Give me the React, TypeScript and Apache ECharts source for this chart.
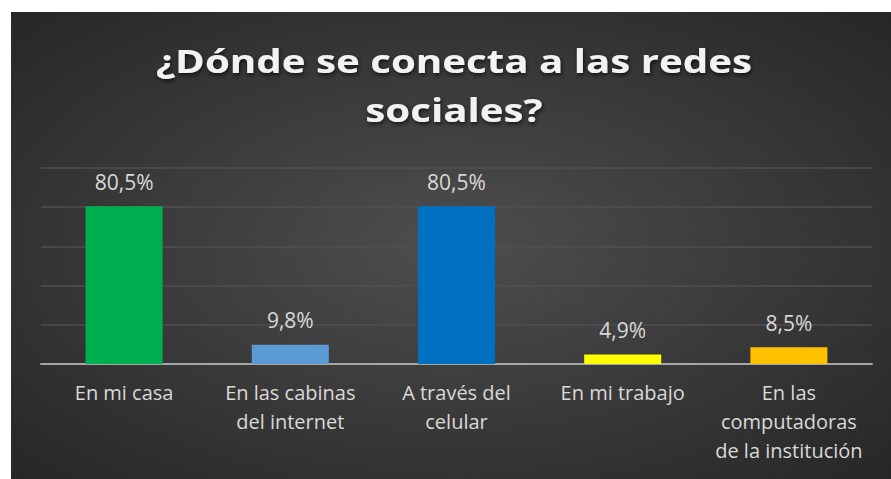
import React, { useEffect, useRef } from "react";
import * as echarts from "echarts";

const categories = [
  "En mi casa",
  "En las cabinas\ndel internet",
  "A través del\ncelular",
  "En mi trabajo",
  "En las\ncomputadoras\nde la institución",
];
const values = [80.5, 9.8, 80.5, 4.9, 8.5];
const barColors = ["#00b050", "#5b9bd5", "#0070c0", "#ffff00", "#ffc000"];
const titleText = "¿Dónde se conecta a las redes\nsociales?";

export default function App() {
  const ref = useRef<HTMLDivElement>(null);
  useEffect(() => {
    document.body.style.margin = "0";
    const chart = echarts.init(ref.current!, null, { renderer: "svg" });
    chart.setOption({
      animation: false,
      backgroundColor: {
        type: "radial",
        x: 0.5,
        y: 0.5,
        r: 0.75,
        colorStops: [
          { offset: 0, color: "#4e4e4e" },
          { offset: 1, color: "#242424" },
        ],
      },
      graphic: [
        {
          type: "text",
          x: 443,
          y: 24,
          scaleX: 1.22,
          scaleY: 1,
          style: {
            text: titleText,
            textAlign: "center",
            textVerticalAlign: "top",
            fontFamily: "Open Sans",
            fontWeight: "bold",
            fontSize: 33,
            lineHeight: 49,
            fill: "#f2f2f2",
            textShadowColor: "rgba(0,0,0,0.7)",
            textShadowBlur: 4,
            textShadowOffsetX: 1,
            textShadowOffsetY: 2,
          },
        },
      ],
      grid: { left: 30, right: 19, top: 156, height: 196 },
      xAxis: {
        type: "category",
        data: categories,
        axisLine: { lineStyle: { color: "#a6a6a6", width: 2 } },
        axisTick: { show: false },
        axisLabel: {
          color: "#d9d9d9",
          fontFamily: "Open Sans",
          fontSize: 20,
          lineHeight: 29,
          margin: 14,
          interval: 0,
        },
      },
      yAxis: {
        type: "value",
        min: 0,
        max: 100,
        interval: 20,
        axisLabel: { show: false },
        axisLine: { show: false },
        axisTick: { show: false },
        splitLine: { lineStyle: { color: "#4f4f4f", width: 1.5 } },
      },
      series: [
        {
          type: "bar",
          barWidth: 77,
          data: values.map((v, i) => ({ value: v, itemStyle: { color: barColors[i] } })),
          label: {
            show: true,
            position: "top",
            distance: 14,
            color: "#d9d9d9",
            fontFamily: "Open Sans",
            fontSize: 21,
            formatter: (p: any) => p.value.toFixed(1).replace(".", ",") + "%",
          },
        },
      ],
    });
    return () => chart.dispose();
  }, []);
  return (
    <div style={{ position: "fixed", left: 0, top: 0, width: 891, height: 479, background: "#ffffff" }}>
      <div ref={ref} style={{ position: "absolute", left: 11, top: 12, width: 880, height: 467 }} />
    </div>
  );
}
